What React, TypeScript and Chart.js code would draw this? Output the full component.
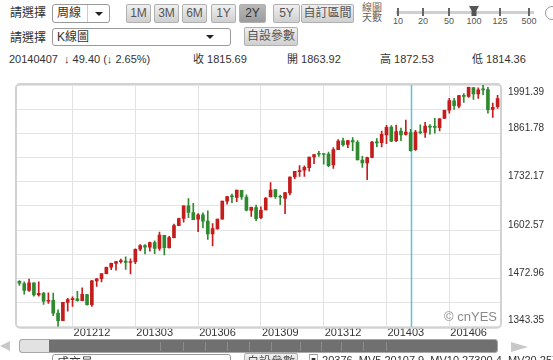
import React, { useEffect, useRef } from 'react';
import { Chart, registerables } from 'chart.js';

Chart.register(...registerables);

// ---- data (weekly candles) ----
const weeks = [
  '20120917','20120924','20121001','20121008','20121015','20121022','20121029','20121105','20121112','20121119',
  '20121126','20121203','20121210','20121217','20121224','20121231','20130107','20130114','20130121','20130128',
  '20130204','20130211','20130218','20130225','20130304','20130311','20130318','20130325','20130401','20130408',
  '20130415','20130422','20130429','20130506','20130513','20130520','20130527','20130603','20130610','20130617',
  '20130624','20130701','20130708','20130715','20130722','20130729','20130805','20130812','20130819','20130826',
  '20130902','20130909','20130916','20130923','20130930','20131007','20131014','20131021','20131028','20131104',
  '20131111','20131118','20131125','20131202','20131209','20131216','20131223','20131230','20140106','20140113',
  '20140120','20140127','20140203','20140210','20140217','20140224','20140303','20140310','20140317','20140324',
  '20140331','20140407','20140414','20140421','20140428','20140505','20140512','20140519','20140526','20140602',
  '20140609','20140616','20140623','20140630','20140707','20140714','20140721','20140728','20140804','20140811',
];
const opens = [
  1465.4,1459.5,1440.9,1460.9,1428.8,1433.2,1411.9,1414.0,1380.0,1359.9,
  1409.0,1416.3,1418.0,1413.5,1430.0,1402.4,1466.5,1472.1,1486.0,1503.0,
  1513.0,1517.9,1519.8,1515.6,1518.2,1551.2,1560.7,1556.9,1569.2,1553.3,
  1588.8,1555.3,1582.3,1614.4,1633.7,1667.5,1649.6,1631.7,1643.4,1626.7,
  1592.4,1606.4,1632.0,1680.2,1692.4,1690.0,1709.0,1690.7,1655.3,1662.7,
  1635.9,1656.9,1691.7,1711.4,1691.4,1687.2,1702.0,1745.2,1759.4,1763.4,
  1770.0,1798.8,1806.3,1806.6,1806.2,1777.0,1818.3,1841.5,1832.3,1842.3,
  1837.9,1790.2,1782.7,1797.0,1838.6,1836.8,1857.7,1878.3,1842.0,1867.7,
  1859.0,1863.92,1818.2,1865.8,1864.0,1879.5,1880.0,1876.7,1902.0,1923.9,
  1949.0,1934.8,1962.9,1960.8,1984.2,1967.7,1979.8,1979.0,1926.2,1933.4,
];
const highs = [
  1467.1,1463.8,1471.0,1460.9,1464.0,1435.5,1434.3,1433.4,1388.8,1409.2,
  1419.7,1423.7,1438.6,1448.0,1430.2,1467.9,1472.8,1485.2,1503.3,1514.4,
  1518.3,1524.7,1530.9,1525.8,1552.5,1563.6,1563.6,1570.3,1573.7,1597.4,
  1588.8,1585.6,1618.5,1635.0,1667.5,1687.2,1674.2,1646.5,1648.7,1654.2,
  1620.0,1632.1,1680.2,1693.1,1698.8,1709.7,1709.2,1696.8,1664.0,1669.5,
  1664.6,1690.0,1729.9,1711.4,1696.6,1703.4,1745.3,1759.8,1775.2,1774.5,
  1798.2,1804.8,1813.6,1806.6,1811.5,1823.8,1844.9,1849.4,1843.2,1850.8,
  1842.3,1799.9,1798.0,1840.1,1847.5,1867.9,1883.6,1882.4,1884.0,1875.9,
  1897.3,1872.53,1869.6,1884.9,1891.3,1885.2,1902.2,1901.3,1924.0,1955.6,
  1955.6,1963.9,1968.2,1985.6,1984.2,1983.9,1991.39,1984.9,1942.9,1964.0,
];
const lows = [
  1454.1,1430.5,1438.4,1425.5,1425.5,1403.3,1405.9,1373.0,1343.35,1359.9,
  1385.4,1398.2,1411.9,1413.5,1401.6,1398.1,1451.6,1463.8,1485.0,1496.3,
  1495.0,1513.6,1497.3,1485.0,1512.3,1547.4,1538.6,1546.2,1539.5,1548.2,
  1536.0,1553.8,1581.3,1614.4,1623.9,1635.5,1630.9,1598.2,1608.1,1577.7,
  1560.3,1604.6,1632.0,1672.3,1676.0,1679.0,1684.9,1654.2,1639.2,1627.5,
  1633.4,1656.9,1691.7,1687.1,1670.4,1646.5,1696.6,1740.5,1746.5,1746.2,
  1760.6,1780.7,1800.2,1779.1,1772.4,1768.0,1818.3,1827.7,1823.7,1815.5,
  1790.3,1770.5,1737.9,1795.8,1826.0,1825.5,1834.4,1839.6,1839.5,1842.1,
  1856.8,1814.36,1815.8,1860.5,1851.0,1859.8,1862.4,1868.1,1901.3,1916.0,
  1925.8,1930.0,1944.7,1958.2,1952.9,1955.6,1965.8,1916.0,1904.8,1928.3,
];
const closes = [
  1460.2,1440.7,1460.9,1428.6,1433.2,1411.9,1414.2,1379.9,1359.9,1409.2,
  1416.2,1418.1,1413.6,1430.2,1402.4,1466.5,1472.1,1486.0,1503.0,1513.2,
  1517.9,1519.8,1515.6,1518.2,1551.2,1560.7,1556.9,1569.2,1553.3,1588.9,
  1555.3,1582.2,1614.4,1633.7,1667.5,1649.6,1630.7,1643.4,1626.7,1592.4,
  1606.3,1631.9,1680.2,1692.1,1691.7,1709.7,1691.4,1655.8,1663.5,1633.0,
  1655.2,1688.0,1709.9,1691.8,1690.5,1703.2,1744.5,1759.8,1761.6,1770.6,
  1798.2,1804.8,1805.8,1805.1,1775.3,1818.3,1841.4,1831.4,1842.4,1838.7,
  1790.3,1782.6,1797.0,1838.6,1836.3,1859.5,1878.0,1841.1,1866.5,1857.6,
  1865.1,1815.69,1864.9,1863.4,1881.1,1878.5,1877.9,1900.5,1923.6,1949.4,
  1936.2,1962.9,1961.0,1985.4,1967.6,1978.2,1978.3,1925.2,1931.6,1955.1,
];

const xTickIndex = [11, 24, 37, 50, 63, 76, 89];
const xTickLabels = ['201212', '201303', '201306', '201309', '201312', '201403', '201406'];
const yTickLabels = ['1343.35', '1472.96', '1602.57', '1732.17', '1861.78', '1991.39'];
const yMin = 1343.35;
const yMax = 1991.39;
const cursorWeek = '20140407';

const UP = '#c41d1d';
const DOWN = '#2f8a2f';
const FONT = '"Liberation Sans", Arial, "Noto Sans CJK TC", sans-serif';

const chartDecor = {
  id: 'chartDecor',
  beforeDatasetsDraw(chart: any) {
    const { ctx, chartArea, scales } = chart;
    const idx = weeks.indexOf(cursorWeek);
    const x = Math.round(scales.x.getPixelForValue(idx)) + 0.5;
    ctx.save();
    ctx.strokeStyle = '#5cc3dc';
    ctx.lineWidth = 1.5;
    ctx.beginPath();
    ctx.moveTo(x, chartArea.top);
    ctx.lineTo(x, chartArea.bottom);
    ctx.stroke();
    ctx.restore();
  },
  afterDraw(chart: any) {
    const { ctx, chartArea, scales } = chart;
    const { left, top, right, bottom } = chartArea;
    ctx.save();
    ctx.strokeStyle = '#d2d2d2';
    ctx.lineWidth = 2;
    ctx.beginPath();
    ctx.roundRect(left - 1, top - 1, right - left + 2, bottom - top + 2, 4);
    ctx.stroke();
    // y labels (right side)
    ctx.fillStyle = '#333';
    ctx.font = '10px ' + FONT;
    ctx.textAlign = 'left';
    ctx.textBaseline = 'middle';
    yTickLabels.forEach((t) => {
      const y = scales.y.getPixelForValue(parseFloat(t));
      const yy = Math.min(Math.max(y - 5, top + 7), bottom - 7);
      ctx.fillText(t, right + 8, yy);
    });
    // watermark
    ctx.fillStyle = '#8a8a8a';
    ctx.font = '13px ' + FONT;
    ctx.textAlign = 'right';
    ctx.textBaseline = 'middle';
    ctx.fillText('\u00A9 cnYES', right - 3, bottom - 9);
    ctx.restore();
  },
};

function CandleChart() {
  const ref = useRef<HTMLCanvasElement>(null);
  useEffect(() => {
    const colors = opens.map((o, i) => (closes[i] >= o ? UP : DOWN));
    const chart = new Chart(ref.current as HTMLCanvasElement, {
      type: 'bar',
      data: {
        labels: weeks,
        datasets: [
          {
            label: 'body',
            data: opens.map((o, i) => [Math.min(o, closes[i]), Math.max(o, closes[i])]) as any,
            backgroundColor: colors,
            barThickness: 3,
            minBarLength: 1,
            grouped: false,
          } as any,
          {
            label: 'wick',
            data: lows.map((l, i) => [l, highs[i]]) as any,
            backgroundColor: colors,
            barThickness: 1,
            grouped: false,
          } as any,
        ],
      },
      options: {
        animation: false,
        responsive: false,
        maintainAspectRatio: false,
        layout: { padding: { left: 17, right: 53, top: 5, bottom: 1 } },
        plugins: { legend: { display: false }, tooltip: { enabled: false } },
        scales: {
          x: {
            type: 'category',
            offset: true,
            border: { display: false },
            grid: {
              offset: false,
              drawTicks: false,
              color: (c: any) => (xTickIndex.includes(c.index) ? '#e2e2e2' : 'rgba(0,0,0,0)'),
            },
            ticks: {
              autoSkip: false,
              maxRotation: 0,
              minRotation: 0,
              padding: 0,
              align: 'start',
              labelOffset: 1,
              color: '#333',
              font: { size: 11, family: FONT },
              callback: (_v: any, i: number) => {
                const k = xTickIndex.indexOf(i);
                return k >= 0 ? xTickLabels[k] : '';
              },
            },
          },
          y: {
            position: 'right',
            min: yMin,
            max: yMax,
            border: { display: false },
            grid: { color: '#e4e4e4', drawTicks: false },
            ticks: { display: false },
            afterBuildTicks: (s: any) => {
              const t = [] as any[];
              for (let i = 0; i <= 10; i++) t.push({ value: yMin + ((yMax - yMin) * i) / 10 });
              s.ticks = t;
            },
          },
        },
      },
      plugins: [chartDecor],
    });
    return () => chart.destroy();
  }, []);
  return (
    <canvas
      ref={ref}
      width={553}
      height={261}
      style={{ position: 'absolute', left: 0, top: 80, width: 553, height: 261 }}
    />
  );
}

const abs = (l: number, t: number, extra: any = {}) => ({ position: 'absolute' as const, left: l, top: t, ...extra });

const btn = (l: number, w: number, t: number, text: string, pressed = false) => (
  <div
    key={text + l}
    style={abs(l, t, {
      width: w,
      height: 17,
      border: '1px solid #b0b0b0',
      borderRadius: 2,
      background: pressed ? 'linear-gradient(#b8b8b8,#9c9c9c)' : 'linear-gradient(#f0f0f0,#cfcfcf)',
      color: pressed ? '#333' : '#555',
      fontSize: 12,
      lineHeight: '17px',
      textAlign: 'center',
      boxSizing: 'content-box',
    })}
  >
    {text}
  </div>
);

const arrowDown = (l: number, t: number) => (
  <div
    style={abs(l, t, {
      width: 0,
      height: 0,
      borderLeft: '4px solid transparent',
      borderRight: '4px solid transparent',
      borderTop: '4px solid #222',
    })}
  />
);

const sliderStops = [
  { x: 398, t: '10' },
  { x: 423, t: '20' },
  { x: 449, t: '50' },
  { x: 474, t: '100' },
  { x: 500, t: '125' },
  { x: 529, t: '500' },
];

const scrollMarks = [160, 183, 205, 227, 249, 271, 300, 321, 341, 363, 386];

export default function App() {
  return (
    <div
      style={{
        position: 'fixed',
        left: 0,
        top: 0,
        width: 553,
        height: 360,
        overflow: 'hidden',
        background: '#fff',
        fontFamily: FONT,
        color: '#333',
      }}
    >
      {/* Row 1 */}
      <div style={abs(10, 6, { fontSize: 12, lineHeight: '15px' })}>請選擇</div>
      <div
        style={abs(52, 4, {
          width: 56,
          height: 17,
          border: '1px solid #9a9a9a',
          borderRadius: 3,
          background: '#fff',
        })}
      >
        <div style={abs(4, 1, { fontSize: 12, lineHeight: '15px' })}>周線</div>
        <div style={abs(34, 0, { width: 0, height: 17, borderLeft: '1px solid #ccc' })} />
        {arrowDown(42, 7)}
      </div>
      {btn(126, 23, 4, '1M')}
      {btn(154, 23, 4, '3M')}
      {btn(182, 23, 4, '6M')}
      {btn(211, 23, 4, '1Y')}
      {btn(239, 25, 4, '2Y', true)}
      {btn(273, 25, 4, '5Y')}
      {btn(301, 51, 4, '自訂區間')}
      <div style={abs(362, 3, { fontSize: 10, lineHeight: '10px', color: '#666' })}>
        線圖
        <br />
        天數
      </div>
      <div style={abs(396, 11, { width: 138, height: 3, background: '#cfcfcf' })} />
      {sliderStops.map((s) => (
        <React.Fragment key={s.t}>
          <div style={abs(s.x - 1, 8, { width: 2, height: 8, background: '#666' })} />
          <div style={abs(s.x - 12, 16, { width: 24, textAlign: 'center', fontSize: 9, lineHeight: '11px', color: '#555' })}>
            {s.t}
          </div>
        </React.Fragment>
      ))}
      <div
        style={abs(469, 6, {
          width: 10,
          height: 10,
          background: '#555',
          clipPath: 'polygon(0 0,100% 0,75% 45%,75% 100%,25% 100%,25% 45%)',
        })}
      />
      <div style={abs(545, 6, { width: 12, height: 12, borderRadius: '50%', border: '1px solid #999' })} />

      {/* Row 2 */}
      <div style={abs(10, 31, { fontSize: 12, lineHeight: '15px' })}>請選擇</div>
      <div
        style={abs(52, 28, {
          width: 177,
          height: 16,
          border: '1px solid #9a9a9a',
          borderRadius: 3,
          background: '#fff',
        })}
      >
        <div style={abs(4, 1, { fontSize: 12, lineHeight: '14px' })}>K線圖</div>
        {arrowDown(153, 6)}
      </div>
      {btn(244, 52, 27, '自設參數')}

      {/* Row 3 */}
      <div style={abs(9, 53, { fontSize: 11, lineHeight: '13px', whiteSpace: 'pre' })}>
        {'20140407  \u2193 49.40 (\u2193 2.65%)'}
      </div>
      <div style={abs(193, 53, { fontSize: 11, lineHeight: '13px' })}>收 1815.69</div>
      <div style={abs(287, 53, { fontSize: 11, lineHeight: '13px' })}>開 1863.92</div>
      <div style={abs(380, 53, { fontSize: 11, lineHeight: '13px' })}>高 1872.53</div>
      <div style={abs(472, 53, { fontSize: 11, lineHeight: '13px' })}>低 1814.36</div>

      <CandleChart />

      {/* scrollbar */}
      <div
        style={abs(0, 341, {
          width: 0,
          height: 0,
          borderTop: '5px solid transparent',
          borderBottom: '5px solid transparent',
          borderRight: '10px solid #c8c8c8',
        })}
      />
      <div
        style={abs(19, 339, {
          width: 477,
          height: 12,
          border: '1px solid #a8a8a8',
          borderRadius: 3,
          background: '#707070',
          overflow: 'hidden',
        })}
      >
        <div style={abs(0, 0, { width: 29, height: 12, background: '#e2e2e2' })} />
        {scrollMarks.map((m) => (
          <div key={m} style={abs(m - 20, 2, { width: 1, height: 9, background: '#8c8c8c' })} />
        ))}
      </div>
      <div
        style={abs(511, 342, {
          width: 0,
          height: 0,
          borderTop: '5px solid transparent',
          borderBottom: '5px solid transparent',
          borderLeft: '17px solid #c8c8c8',
        })}
      />

      {/* bottom row (cut off) */}
      <div
        style={abs(52, 354, {
          width: 177,
          height: 16,
          border: '1px solid #9a9a9a',
          borderRadius: 3,
          background: '#fff',
        })}
      >
        <div style={abs(4, 1, { fontSize: 12, lineHeight: '14px' })}>成交量</div>
      </div>
      {btn(244, 52, 353, '自設參數')}
      <div style={abs(308, 354, { fontSize: 11, lineHeight: '13px', whiteSpace: 'pre' })}>
        {'\u25A3 20376  MV5 20107.9  MV10 27300.4  MV20 25720.9'}
      </div>
    </div>
  );
}
